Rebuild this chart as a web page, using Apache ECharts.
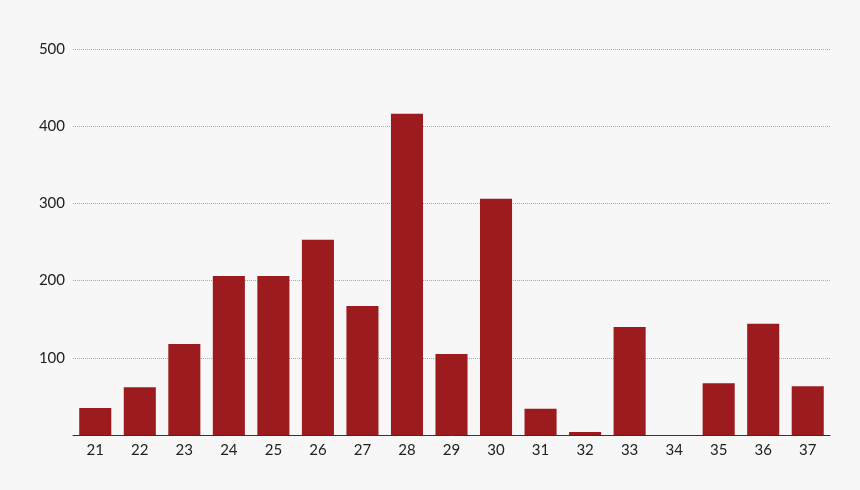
<!DOCTYPE html>
<html>
<head>
<meta charset="utf-8">
<script src="https://cdn.jsdelivr.net/npm/echarts@6/dist/echarts.min.js"></script>
<style>
  html, body { margin: 0; padding: 0; background: #f7f7f7; }
  #chart { width: 860px; height: 490px; }
</style>
</head>
<body>
<div id="chart"></div>
<script>
const categories = ['21', '22', '23', '24', '25', '26', '27', '28', '29', '30', '31', '32', '33', '34', '35', '36', '37'];
const values = [35, 62, 118, 206, 206, 253, 167, 416, 105, 306, 34, 4, 140, 0, 67, 144, 63];

const chart = echarts.init(document.getElementById('chart'));
chart.setOption({
  backgroundColor: '#f7f7f7',
  animation: false,
  grid: { left: 73, right: 30, top: 49, bottom: 55 },
  xAxis: {
    type: 'category',
    data: categories,
    axisLine: { lineStyle: { color: '#333', width: 1 } },
    axisTick: { show: false },
    axisLabel: { color: '#222', fontSize: 15, fontFamily: 'Lato', margin: 8 }
  },
  yAxis: {
    type: 'value',
    min: 0,
    max: 500,
    interval: 100,
    axisLine: { show: false },
    axisTick: { show: false },
    axisLabel: {
      color: '#222', fontSize: 15, fontFamily: 'Lato', margin: 8,
      formatter: v => (v === 0 ? '' : v)
    },
    splitLine: { lineStyle: { color: '#aaa', type: 'dotted' } }
  },
  series: [{
    type: 'bar',
    data: values,
    barCategoryGap: '28%',
    itemStyle: { color: '#9b1b1f' }
  }]
});
</script>
</body>
</html>
